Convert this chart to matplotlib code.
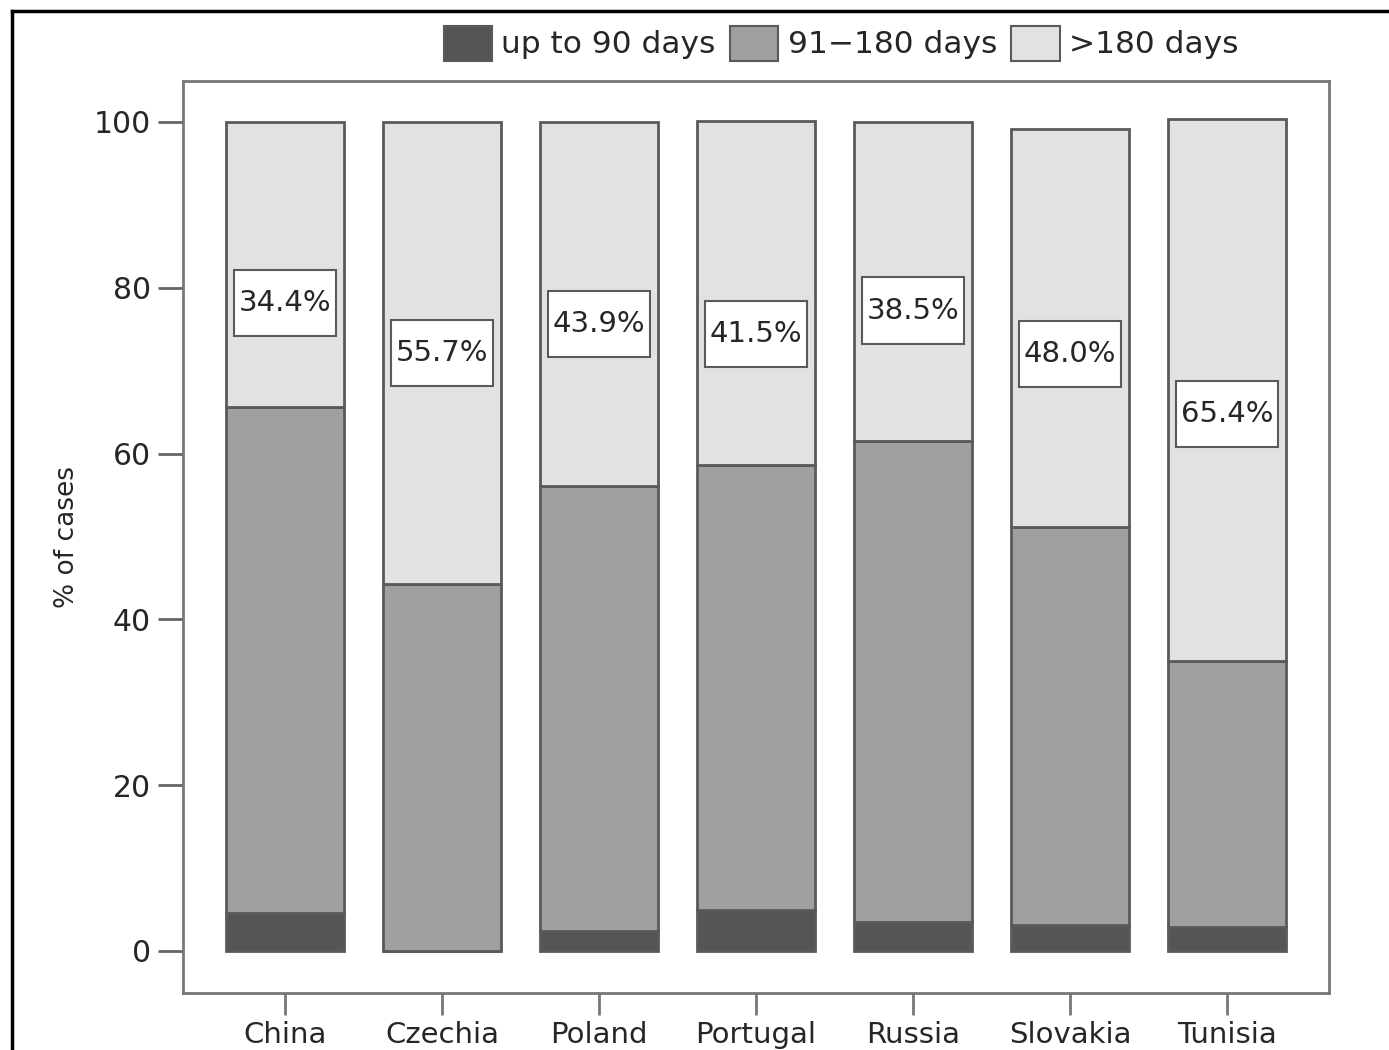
import matplotlib.pyplot as plt
from matplotlib.patches import Rectangle, Patch
from matplotlib.lines import Line2D
import numpy as np

plt.rcParams['font.family'] = ['DejaVu Sans']

countries = ['China', 'Czechia', 'Poland', 'Portugal', 'Russia', 'Slovakia', 'Tunisia']
upTo90 = [4.6, 0.0, 2.4, 4.9, 3.5, 3.1, 2.9]
days91to180 = [61.0, 44.3, 53.7, 53.7, 58.0, 48.0, 32.1]
over180 = [34.4, 55.7, 43.9, 41.5, 38.5, 48.0, 65.4]
legendLabels = ['up to 90 days', '91\u2212180 days', '>180 days']

darkCol = '#555555'
midCol = '#a0a0a0'
lightCol = '#e2e2e2'
edgeCol = '#5a5a5a'
txtCol = '#262626'

fig = plt.figure(figsize=(13.89, 10.5), dpi=100)
ax = fig.add_axes([0.1317, 0.0543, 0.8251, 0.8686])

x = np.arange(len(countries))
a = np.array(upTo90)
b = np.array(days91to180)
c = np.array(over180)
w = 0.75
ax.bar(x, a, w, color=darkCol, edgecolor=edgeCol, linewidth=2)
ax.bar(x, b, w, bottom=a, color=midCol, edgecolor=edgeCol, linewidth=2)
ax.bar(x, c, w, bottom=a + b, color=lightCol, edgecolor=edgeCol, linewidth=2)

# percentage boxes for the >180 days share
for i in range(len(countries)):
    yc = b[i] + c[i] / 2
    ax.add_patch(Rectangle((x[i] - 0.325, yc - 4.0), 0.65, 8.0, facecolor='white',
                           edgecolor=edgeCol, linewidth=1.5, zorder=3))
    ax.text(x[i], yc, '%.1f%%' % c[i], ha='center', va='center', fontsize=21,
            color=txtCol, zorder=4)

ax.set_xlim(-0.65, 6.65)
ax.set_ylim(-5.07, 104.95)
ax.set_xticks(x)
ax.set_xticklabels(countries, fontsize=21, color=txtCol)
ax.set_yticks([0, 20, 40, 60, 80, 100])
ax.tick_params(axis='y', labelsize=21.5, labelcolor=txtCol, length=18, width=2,
               color='#666666', pad=5)
ax.tick_params(axis='x', length=16, width=2, color='#777777', pad=4)
ax.set_ylabel('% of cases', fontsize=19, color=txtCol, labelpad=10)
for s in ax.spines.values():
    s.set_color('#777777')
    s.set_linewidth(2)

handles = [Patch(facecolor=col, edgecolor=edgeCol, linewidth=1.5) for col in [darkCol, midCol, lightCol]]
fig.legend(handles, legendLabels, loc='center', bbox_to_anchor=(0.6055, 0.959), ncol=3,
           frameon=False, fontsize=22.5, handlelength=1.55, handleheight=1.35,
           handletextpad=0.3, columnspacing=0.45, labelcolor=txtCol)

# outer frame (left and top edge visible)
fig.add_artist(Line2D([0.0086, 0.0086], [0.0, 0.9895], transform=fig.transFigure, color='black', lw=2.5))
fig.add_artist(Line2D([0.0086, 1.0], [0.9895, 0.9895], transform=fig.transFigure, color='black', lw=2.5))

fig.savefig('out.png', dpi=100)
